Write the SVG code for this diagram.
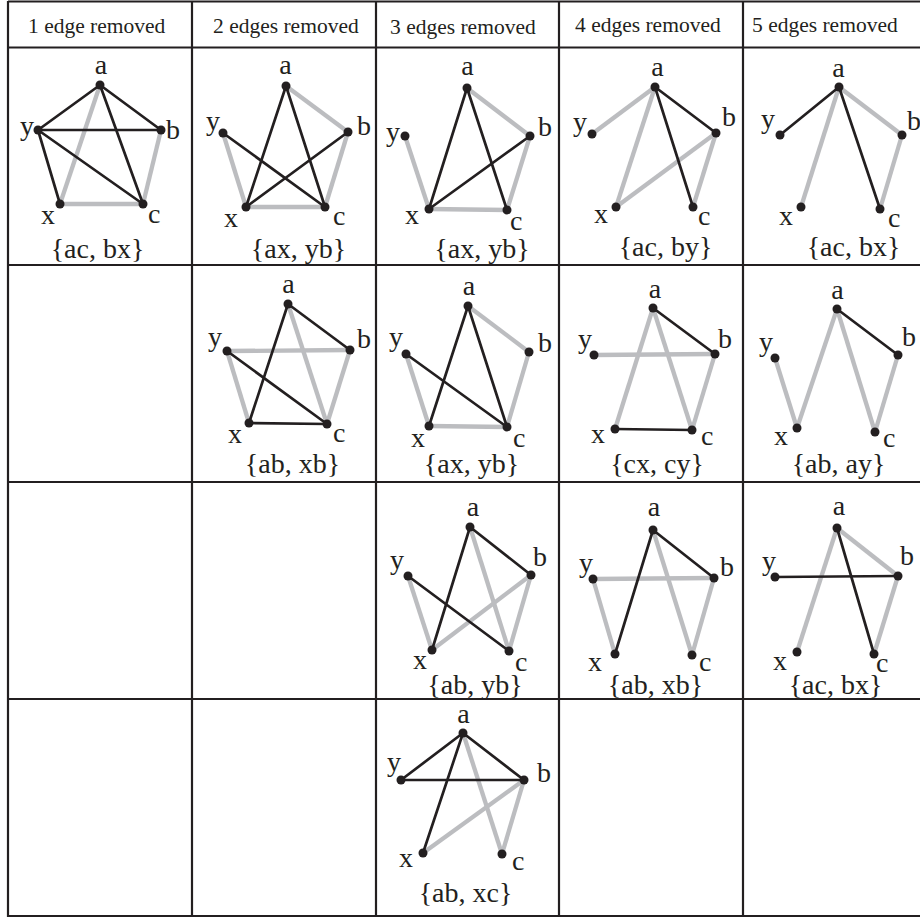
<svg xmlns="http://www.w3.org/2000/svg" width="920" height="918" viewBox="0 0 920 918">
<style>
.grid line{stroke:#231f20;stroke-width:2.2}
.k{stroke:#231f20;stroke-width:2.7;stroke-linecap:round}
.g{stroke:#bcbdc0;stroke-width:4.3;stroke-linecap:butt}
.dot{fill:#231f20}
text{font-family:"Liberation Serif","Times New Roman",serif;fill:#231f20}
.hdr{font-size:21.5px}
.lbl{font-size:28px}
.cap{font-size:28px;text-anchor:middle}
.m{text-anchor:middle}.e{text-anchor:end}
</style>
<rect width="920" height="918" fill="#fff"/>
<g id="table" class="grid">
<line x1="8" y1="1.5" x2="920" y2="1.5"/>
<line x1="8" y1="47.5" x2="920" y2="47.5"/>
<line x1="8" y1="265" x2="920" y2="265"/>
<line x1="8" y1="482" x2="920" y2="482"/>
<line x1="8" y1="699" x2="920" y2="699"/>
<line x1="8" y1="916" x2="920" y2="916"/>
<line x1="8" y1="1" x2="8" y2="917"/>
<line x1="192" y1="1" x2="192" y2="917"/>
<line x1="376" y1="1" x2="376" y2="917"/>
<line x1="559" y1="1" x2="559" y2="917"/>
<line x1="743" y1="1" x2="743" y2="917"/>
</g>
<g id="headers" class="hdr">
<text x="28" y="33">1 edge removed</text>
<text x="213" y="33">2 edges removed</text>
<text x="390" y="34">3 edges removed</text>
<text x="575" y="32">4 edges removed</text>
<text x="752" y="32">5 edges removed</text>
</g>

<!-- cell r1c1 -->
<g id="cell-r1c1">
<g id="edges-r1c1">
<line class="g" x1="100" y1="85" x2="60" y2="204"/>
<line class="g" x1="60" y1="204" x2="143" y2="204"/>
<line class="g" x1="143" y1="204" x2="161" y2="130"/>
<line class="k" x1="100" y1="85" x2="38" y2="130"/>
<line class="k" x1="100" y1="85" x2="161" y2="130"/>
<line class="k" x1="100" y1="85" x2="143" y2="204"/>
<line class="k" x1="38" y1="130" x2="161" y2="130"/>
<line class="k" x1="38" y1="130" x2="143" y2="204"/>
<line class="k" x1="38" y1="130" x2="60" y2="204"/>
</g>
<g id="r1c1-a"><circle class="dot" cx="100" cy="85" r="4.5"/><text class="lbl m" x="101" y="74">a</text></g>
<g id="r1c1-y"><circle class="dot" cx="38" cy="130" r="4.5"/><text class="lbl e" x="34" y="135">y</text></g>
<g id="r1c1-b"><circle class="dot" cx="161" cy="130" r="4.5"/><text class="lbl" x="166" y="139">b</text></g>
<g id="r1c1-x"><circle class="dot" cx="60" cy="204" r="4.5"/><text class="lbl e" x="55" y="224">x</text></g>
<g id="r1c1-c"><circle class="dot" cx="143" cy="204" r="4.5"/><text class="lbl" x="148" y="223">c</text></g>
<text class="cap" x="97.5" y="258">{ac, bx}</text>
</g>

<!-- cell r1c2 -->
<g id="cell-r1c2">
<g id="edges-r1c2">
<line class="g" x1="286" y1="86" x2="348" y2="132"/>
<line class="g" x1="348" y1="132" x2="325" y2="207"/>
<line class="g" x1="246" y1="207" x2="325" y2="207"/>
<line class="g" x1="223" y1="133" x2="246" y2="207"/>
<line class="k" x1="286" y1="86" x2="246" y2="207"/>
<line class="k" x1="286" y1="86" x2="325" y2="207"/>
<line class="k" x1="223" y1="133" x2="325" y2="207"/>
<line class="k" x1="246" y1="207" x2="348" y2="132"/>
</g>
<g id="r1c2-a"><circle class="dot" cx="286" cy="86" r="4.5"/><text class="lbl m" x="285.5" y="74">a</text></g>
<g id="r1c2-y"><circle class="dot" cx="223" cy="133" r="4.5"/><text class="lbl e" x="220" y="130">y</text></g>
<g id="r1c2-b"><circle class="dot" cx="348" cy="132" r="4.5"/><text class="lbl" x="357" y="135">b</text></g>
<g id="r1c2-x"><circle class="dot" cx="246" cy="207" r="4.5"/><text class="lbl e" x="238" y="227">x</text></g>
<g id="r1c2-c"><circle class="dot" cx="325" cy="207" r="4.5"/><text class="lbl" x="333" y="225">c</text></g>
<text class="cap" x="298.5" y="258">{ax, yb}</text>
</g>

<!-- cell r1c3 -->
<g id="cell-r1c3">
<g id="edges-r1c3">
<line class="g" x1="467" y1="88" x2="530" y2="136"/>
<line class="g" x1="530" y1="136" x2="507" y2="210"/>
<line class="g" x1="429" y1="209" x2="507" y2="210"/>
<line class="g" x1="405" y1="136" x2="429" y2="209"/>
<line class="k" x1="467" y1="88" x2="429" y2="209"/>
<line class="k" x1="467" y1="88" x2="507" y2="210"/>
<line class="k" x1="429" y1="209" x2="530" y2="136"/>
</g>
<g id="r1c3-a"><circle class="dot" cx="467" cy="88" r="4.5"/><text class="lbl m" x="467.5" y="75">a</text></g>
<g id="r1c3-y"><circle class="dot" cx="405" cy="136" r="4.5"/><text class="lbl e" x="400" y="141">y</text></g>
<g id="r1c3-b"><circle class="dot" cx="530" cy="136" r="4.5"/><text class="lbl" x="538" y="136">b</text></g>
<g id="r1c3-x"><circle class="dot" cx="429" cy="209" r="4.5"/><text class="lbl e" x="419" y="224">x</text></g>
<g id="r1c3-c"><circle class="dot" cx="507" cy="210" r="4.5"/><text class="lbl" x="510" y="230">c</text></g>
<text class="cap" x="482" y="258">{ax, yb}</text>
</g>

<!-- cell r1c4 -->
<g id="cell-r1c4">
<g id="edges-r1c4">
<line class="g" x1="655" y1="87" x2="592" y2="134"/>
<line class="g" x1="655" y1="87" x2="616" y2="207"/>
<line class="g" x1="616" y1="207" x2="716" y2="133"/>
<line class="g" x1="716" y1="133" x2="693" y2="207"/>
<line class="k" x1="655" y1="87" x2="693" y2="207"/>
<line class="k" x1="655" y1="87" x2="716" y2="133"/>
</g>
<g id="r1c4-a"><circle class="dot" cx="655" cy="87" r="4.5"/><text class="lbl m" x="657.5" y="76">a</text></g>
<g id="r1c4-y"><circle class="dot" cx="592" cy="134" r="4.5"/><text class="lbl e" x="587" y="131">y</text></g>
<g id="r1c4-b"><circle class="dot" cx="716" cy="133" r="4.5"/><text class="lbl" x="722" y="126">b</text></g>
<g id="r1c4-x"><circle class="dot" cx="616" cy="207" r="4.5"/><text class="lbl e" x="608" y="223">x</text></g>
<g id="r1c4-c"><circle class="dot" cx="693" cy="207" r="4.5"/><text class="lbl" x="698" y="225">c</text></g>
<text class="cap" x="665.5" y="256">{ac, by}</text>
</g>

<!-- cell r1c5 -->
<g id="cell-r1c5">
<g id="edges-r1c5">
<line class="g" x1="839" y1="87" x2="902" y2="135"/>
<line class="g" x1="839" y1="87" x2="801" y2="207"/>
<line class="g" x1="902" y1="135" x2="880" y2="209"/>
<line class="k" x1="839" y1="87" x2="780" y2="135"/>
<line class="k" x1="839" y1="87" x2="880" y2="209"/>
</g>
<g id="r1c5-a"><circle class="dot" cx="839" cy="87" r="4.5"/><text class="lbl m" x="838.5" y="77">a</text></g>
<g id="r1c5-y"><circle class="dot" cx="780" cy="135" r="4.5"/><text class="lbl e" x="775" y="128">y</text></g>
<g id="r1c5-b"><circle class="dot" cx="902" cy="135" r="4.5"/><text class="lbl" x="907" y="130">b</text></g>
<g id="r1c5-x"><circle class="dot" cx="801" cy="207" r="4.5"/><text class="lbl e" x="793" y="225">x</text></g>
<g id="r1c5-c"><circle class="dot" cx="880" cy="209" r="4.5"/><text class="lbl" x="888" y="227">c</text></g>
<text class="cap" x="853.5" y="256">{ac, bx}</text>
</g>

<!-- cell r2c2 -->
<g id="cell-r2c2">
<g id="edges-r2c2">
<line class="g" x1="288" y1="304" x2="327" y2="424"/>
<line class="g" x1="227" y1="351" x2="350" y2="350"/>
<line class="g" x1="350" y1="350" x2="327" y2="424"/>
<line class="g" x1="227" y1="351" x2="249" y2="423"/>
<line class="k" x1="288" y1="304" x2="350" y2="350"/>
<line class="k" x1="288" y1="304" x2="249" y2="423"/>
<line class="k" x1="227" y1="351" x2="327" y2="424"/>
<line class="k" x1="249" y1="423" x2="327" y2="424"/>
</g>
<g id="r2c2-a"><circle class="dot" cx="288" cy="304" r="4.5"/><text class="lbl m" x="288.5" y="293">a</text></g>
<g id="r2c2-y"><circle class="dot" cx="227" cy="351" r="4.5"/><text class="lbl e" x="222" y="346">y</text></g>
<g id="r2c2-b"><circle class="dot" cx="350" cy="350" r="4.5"/><text class="lbl" x="357" y="348">b</text></g>
<g id="r2c2-x"><circle class="dot" cx="249" cy="423" r="4.5"/><text class="lbl e" x="242" y="443">x</text></g>
<g id="r2c2-c"><circle class="dot" cx="327" cy="424" r="4.5"/><text class="lbl" x="333" y="442">c</text></g>
<text class="cap" x="292.5" y="473">{ab, xb}</text>
</g>

<!-- cell r2c3 -->
<g id="cell-r2c3">
<g id="edges-r2c3">
<line class="g" x1="468" y1="306" x2="529" y2="352"/>
<line class="g" x1="529" y1="352" x2="507" y2="427"/>
<line class="g" x1="429" y1="426" x2="507" y2="427"/>
<line class="g" x1="406" y1="354" x2="429" y2="426"/>
<line class="k" x1="468" y1="306" x2="429" y2="426"/>
<line class="k" x1="468" y1="306" x2="507" y2="427"/>
<line class="k" x1="406" y1="354" x2="507" y2="427"/>
</g>
<g id="r2c3-a"><circle class="dot" cx="468" cy="306" r="4.5"/><text class="lbl m" x="469" y="295">a</text></g>
<g id="r2c3-y"><circle class="dot" cx="406" cy="354" r="4.5"/><text class="lbl e" x="403" y="346">y</text></g>
<g id="r2c3-b"><circle class="dot" cx="529" cy="352" r="4.5"/><text class="lbl" x="538" y="352">b</text></g>
<g id="r2c3-x"><circle class="dot" cx="429" cy="426" r="4.5"/><text class="lbl e" x="425" y="447">x</text></g>
<g id="r2c3-c"><circle class="dot" cx="507" cy="427" r="4.5"/><text class="lbl" x="513" y="447">c</text></g>
<text class="cap" x="471.5" y="473">{ax, yb}</text>
</g>

<!-- cell r2c4 -->
<g id="cell-r2c4">
<g id="edges-r2c4">
<line class="g" x1="653" y1="308" x2="615" y2="429"/>
<line class="g" x1="653" y1="308" x2="692" y2="430"/>
<line class="g" x1="594" y1="355" x2="715" y2="354"/>
<line class="g" x1="715" y1="354" x2="692" y2="430"/>
<line class="k" x1="653" y1="308" x2="715" y2="354"/>
<line class="k" x1="615" y1="429" x2="692" y2="430"/>
</g>
<g id="r2c4-a"><circle class="dot" cx="653" cy="308" r="4.5"/><text class="lbl m" x="655" y="298">a</text></g>
<g id="r2c4-y"><circle class="dot" cx="594" cy="355" r="4.5"/><text class="lbl e" x="592" y="348">y</text></g>
<g id="r2c4-b"><circle class="dot" cx="715" cy="354" r="4.5"/><text class="lbl" x="718" y="348">b</text></g>
<g id="r2c4-x"><circle class="dot" cx="615" cy="429" r="4.5"/><text class="lbl e" x="605" y="443">x</text></g>
<g id="r2c4-c"><circle class="dot" cx="692" cy="430" r="4.5"/><text class="lbl" x="701" y="445">c</text></g>
<text class="cap" x="657" y="473">{cx, cy}</text>
</g>

<!-- cell r2c5 -->
<g id="cell-r2c5">
<g id="edges-r2c5">
<line class="g" x1="775" y1="358" x2="797" y2="428"/>
<line class="g" x1="797" y1="428" x2="837" y2="309"/>
<line class="g" x1="837" y1="309" x2="875" y2="432"/>
<line class="g" x1="875" y1="432" x2="898" y2="355"/>
<line class="k" x1="837" y1="309" x2="898" y2="355"/>
</g>
<g id="r2c5-a"><circle class="dot" cx="837" cy="309" r="4.5"/><text class="lbl m" x="837.5" y="299">a</text></g>
<g id="r2c5-y"><circle class="dot" cx="775" cy="358" r="4.5"/><text class="lbl e" x="773" y="351">y</text></g>
<g id="r2c5-b"><circle class="dot" cx="898" cy="355" r="4.5"/><text class="lbl" x="902" y="346">b</text></g>
<g id="r2c5-x"><circle class="dot" cx="797" cy="428" r="4.5"/><text class="lbl e" x="788" y="445">x</text></g>
<g id="r2c5-c"><circle class="dot" cx="875" cy="432" r="4.5"/><text class="lbl" x="883" y="447">c</text></g>
<text class="cap" x="838.5" y="473">{ab, ay}</text>
</g>

<!-- cell r3c3 -->
<g id="cell-r3c3">
<g id="edges-r3c3">
<line class="g" x1="470" y1="527" x2="509" y2="651"/>
<line class="g" x1="531" y1="575" x2="509" y2="651"/>
<line class="g" x1="531" y1="575" x2="432" y2="650"/>
<line class="g" x1="408" y1="576" x2="432" y2="650"/>
<line class="k" x1="470" y1="527" x2="531" y2="575"/>
<line class="k" x1="470" y1="527" x2="432" y2="650"/>
<line class="k" x1="408" y1="576" x2="509" y2="651"/>
</g>
<g id="r3c3-a"><circle class="dot" cx="470" cy="527" r="4.5"/><text class="lbl m" x="473" y="516">a</text></g>
<g id="r3c3-y"><circle class="dot" cx="408" cy="576" r="4.5"/><text class="lbl e" x="404" y="569">y</text></g>
<g id="r3c3-b"><circle class="dot" cx="531" cy="575" r="4.5"/><text class="lbl" x="533" y="566">b</text></g>
<g id="r3c3-x"><circle class="dot" cx="432" cy="650" r="4.5"/><text class="lbl e" x="427" y="669">x</text></g>
<g id="r3c3-c"><circle class="dot" cx="509" cy="651" r="4.5"/><text class="lbl" x="515" y="671">c</text></g>
<text class="cap" x="475" y="694">{ab, yb}</text>
</g>

<!-- cell r3c4 -->
<g id="cell-r3c4">
<g id="edges-r3c4">
<line class="g" x1="593" y1="579" x2="714" y2="578"/>
<line class="g" x1="593" y1="579" x2="615" y2="654"/>
<line class="g" x1="653" y1="530" x2="692" y2="655"/>
<line class="g" x1="714" y1="578" x2="692" y2="655"/>
<line class="k" x1="653" y1="530" x2="714" y2="578"/>
<line class="k" x1="653" y1="530" x2="615" y2="654"/>
</g>
<g id="r3c4-a"><circle class="dot" cx="653" cy="530" r="4.5"/><text class="lbl m" x="654" y="516">a</text></g>
<g id="r3c4-y"><circle class="dot" cx="593" cy="579" r="4.5"/><text class="lbl e" x="593" y="572">y</text></g>
<g id="r3c4-b"><circle class="dot" cx="714" cy="578" r="4.5"/><text class="lbl" x="720" y="576">b</text></g>
<g id="r3c4-x"><circle class="dot" cx="615" cy="654" r="4.5"/><text class="lbl e" x="602" y="671">x</text></g>
<g id="r3c4-c"><circle class="dot" cx="692" cy="655" r="4.5"/><text class="lbl" x="699" y="671">c</text></g>
<text class="cap" x="655.5" y="694">{ab, xb}</text>
</g>

<!-- cell r3c5 -->
<g id="cell-r3c5">
<g id="edges-r3c5">
<line class="g" x1="837" y1="528" x2="797" y2="652"/>
<line class="g" x1="837" y1="528" x2="898" y2="576"/>
<line class="g" x1="898" y1="576" x2="874" y2="654"/>
<line class="k" x1="775" y1="577" x2="898" y2="576"/>
<line class="k" x1="837" y1="528" x2="874" y2="654"/>
</g>
<g id="r3c5-a"><circle class="dot" cx="837" cy="528" r="4.5"/><text class="lbl m" x="839" y="515">a</text></g>
<g id="r3c5-y"><circle class="dot" cx="775" cy="577" r="4.5"/><text class="lbl e" x="776" y="570">y</text></g>
<g id="r3c5-b"><circle class="dot" cx="898" cy="576" r="4.5"/><text class="lbl" x="900" y="565">b</text></g>
<g id="r3c5-x"><circle class="dot" cx="797" cy="652" r="4.5"/><text class="lbl e" x="787" y="670">x</text></g>
<g id="r3c5-c"><circle class="dot" cx="874" cy="654" r="4.5"/><text class="lbl" x="876" y="672">c</text></g>
<text class="cap" x="835.5" y="694">{ac, bx}</text>
</g>

<!-- cell r4c3 -->
<g id="cell-r4c3">
<g id="edges-r4c3">
<line class="g" x1="463" y1="733" x2="502" y2="854"/>
<line class="g" x1="524" y1="780" x2="423" y2="853"/>
<line class="g" x1="524" y1="780" x2="502" y2="854"/>
<line class="k" x1="463" y1="733" x2="401" y2="780"/>
<line class="k" x1="463" y1="733" x2="524" y2="780"/>
<line class="k" x1="401" y1="780" x2="524" y2="780"/>
<line class="k" x1="463" y1="733" x2="423" y2="853"/>
</g>
<g id="r4c3-a"><circle class="dot" cx="463" cy="733" r="4.5"/><text class="lbl m" x="463.5" y="723">a</text></g>
<g id="r4c3-y"><circle class="dot" cx="401" cy="780" r="4.5"/><text class="lbl e" x="401" y="771">y</text></g>
<g id="r4c3-b"><circle class="dot" cx="524" cy="780" r="4.5"/><text class="lbl" x="537" y="782">b</text></g>
<g id="r4c3-x"><circle class="dot" cx="423" cy="853" r="4.5"/><text class="lbl e" x="413" y="867">x</text></g>
<g id="r4c3-c"><circle class="dot" cx="502" cy="854" r="4.5"/><text class="lbl" x="512" y="870">c</text></g>
<text class="cap" x="465.5" y="902">{ab, xc}</text>
</g>
</svg>
